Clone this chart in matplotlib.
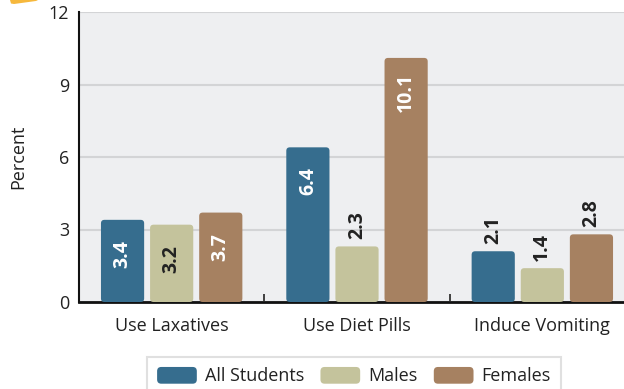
import numpy as np
import matplotlib.pyplot as plt
from matplotlib.patches import FancyBboxPatch, Polygon, Patch
from matplotlib.legend_handler import HandlerPatch

categories = ["Use Laxatives", "Use Diet Pills", "Induce Vomiting"]
series_names = ["All Students", "Males", "Females"]
all_students = [3.4, 6.4, 2.1]
males = [3.2, 2.3, 1.4]
females = [3.7, 10.1, 2.8]
y_ticks = [0, 3, 6, 9, 12]

colors = ["#366d8e", "#c4c39c", "#a68161"]
label_colors = ["white", "#222222", "white"]

plt.rcParams['font.family'] = ['Open Sans', 'DejaVu Sans']

fig = plt.figure(figsize=(6.24, 3.89), dpi=100)
W, H = 624, 389
ax = fig.add_axes([79 / W, 87 / H, 556 / W, 290 / H])
ax.set_facecolor("#eeeff1")

x = np.arange(len(categories))
width = 0.233
pitch = 0.265
rounding = 0.019
aspect = 7.6


def rounded(rect, color):
    return FancyBboxPatch((rect.get_x(), rect.get_y()), rect.get_width(), rect.get_height(),
                          boxstyle=f"round,pad=0,rounding_size={rounding}",
                          mutation_aspect=aspect, facecolor=color, edgecolor="none", zorder=3)


for i, (vals, c, tc) in enumerate(zip([all_students, males, females], colors, label_colors)):
    bars = ax.bar(x + (i - 1) * pitch, vals, width, color=c)
    for rect, v in zip(bars, vals):
        rect.set_visible(False)
        ax.add_patch(rounded(rect, c))
        cx = rect.get_x() + rect.get_width() / 2
        if v >= 3:
            ax.annotate(f"{v}", (cx, v), xytext=(0, -24.5), textcoords="offset points",
                        rotation=90, ha="center", va="center", fontsize=14,
                        fontweight="bold", color=tc, zorder=4)
        else:
            ax.annotate(f"{v}", (cx, v), xytext=(0, 5), textcoords="offset points",
                        rotation=90, ha="center", va="bottom", fontsize=14,
                        fontweight="bold", color="#222222", zorder=4)

ax.set_xlim(-0.5, 2.5)
ax.set_ylim(0, 12)
ax.set_yticks(y_ticks)
ax.yaxis.grid(True, color="#d3d4d6", linewidth=1.5, zorder=0)
ax.set_axisbelow(True)
ax.tick_params(axis="y", length=0, pad=7, labelsize=13, labelcolor="#222222")

ax.set_xticks(x)
ax.set_xticklabels(categories)
ax.set_xticks([0.5, 1.5], minor=True)
ax.tick_params(axis="x", which="major", length=0, pad=11, labelsize=13, labelcolor="#222222")
ax.tick_params(axis="x", which="minor", direction="in", length=6, width=1.2, color="#222222")

for side in ["top", "right"]:
    ax.spines[side].set_visible(False)
ax.spines["left"].set_linewidth(1.5)
ax.spines["bottom"].set_linewidth(2)
ax.spines["left"].set_color("#111111")
ax.spines["bottom"].set_color("#111111")

ax.set_ylabel("Percent", fontsize=13, color="#222222")
ax.yaxis.set_label_coords(-52 / 556, 0.5)


def legend_patch(legend, orig_handle, xdescent, ydescent, width, height, fontsize):
    return FancyBboxPatch((-xdescent, -ydescent), width, height,
                          boxstyle="round,pad=0,rounding_size=3")


handles = [Patch(facecolor=c, edgecolor="none") for c in colors]
leg = fig.legend(handles, series_names, loc="upper center", bbox_to_anchor=(354 / W, 1 - 348 / H),
                 ncol=3, fontsize=13, handlelength=2.2, handleheight=1.05,
                 handletextpad=0.45, columnspacing=0.9, borderpad=0.55,
                 fancybox=False, edgecolor="#d9d9d9",
                 handler_map={Patch: HandlerPatch(patch_func=legend_patch)})
leg.get_frame().set_linewidth(1.5)
for t in leg.get_texts():
    t.set_color("#222222")

# corner accent in the top-left
fig.patches.append(Polygon([(10 / W, 1), (38 / W, 1), (36 / W, 1 - 1 / H),
                            (14 / W, 1 - 4 / H), (11 / W, 1 - 3.5 / H)],
                           closed=True, transform=fig.transFigure,
                           facecolor="#f6b83c", edgecolor="none"))

fig.savefig("out.png", dpi=100)
